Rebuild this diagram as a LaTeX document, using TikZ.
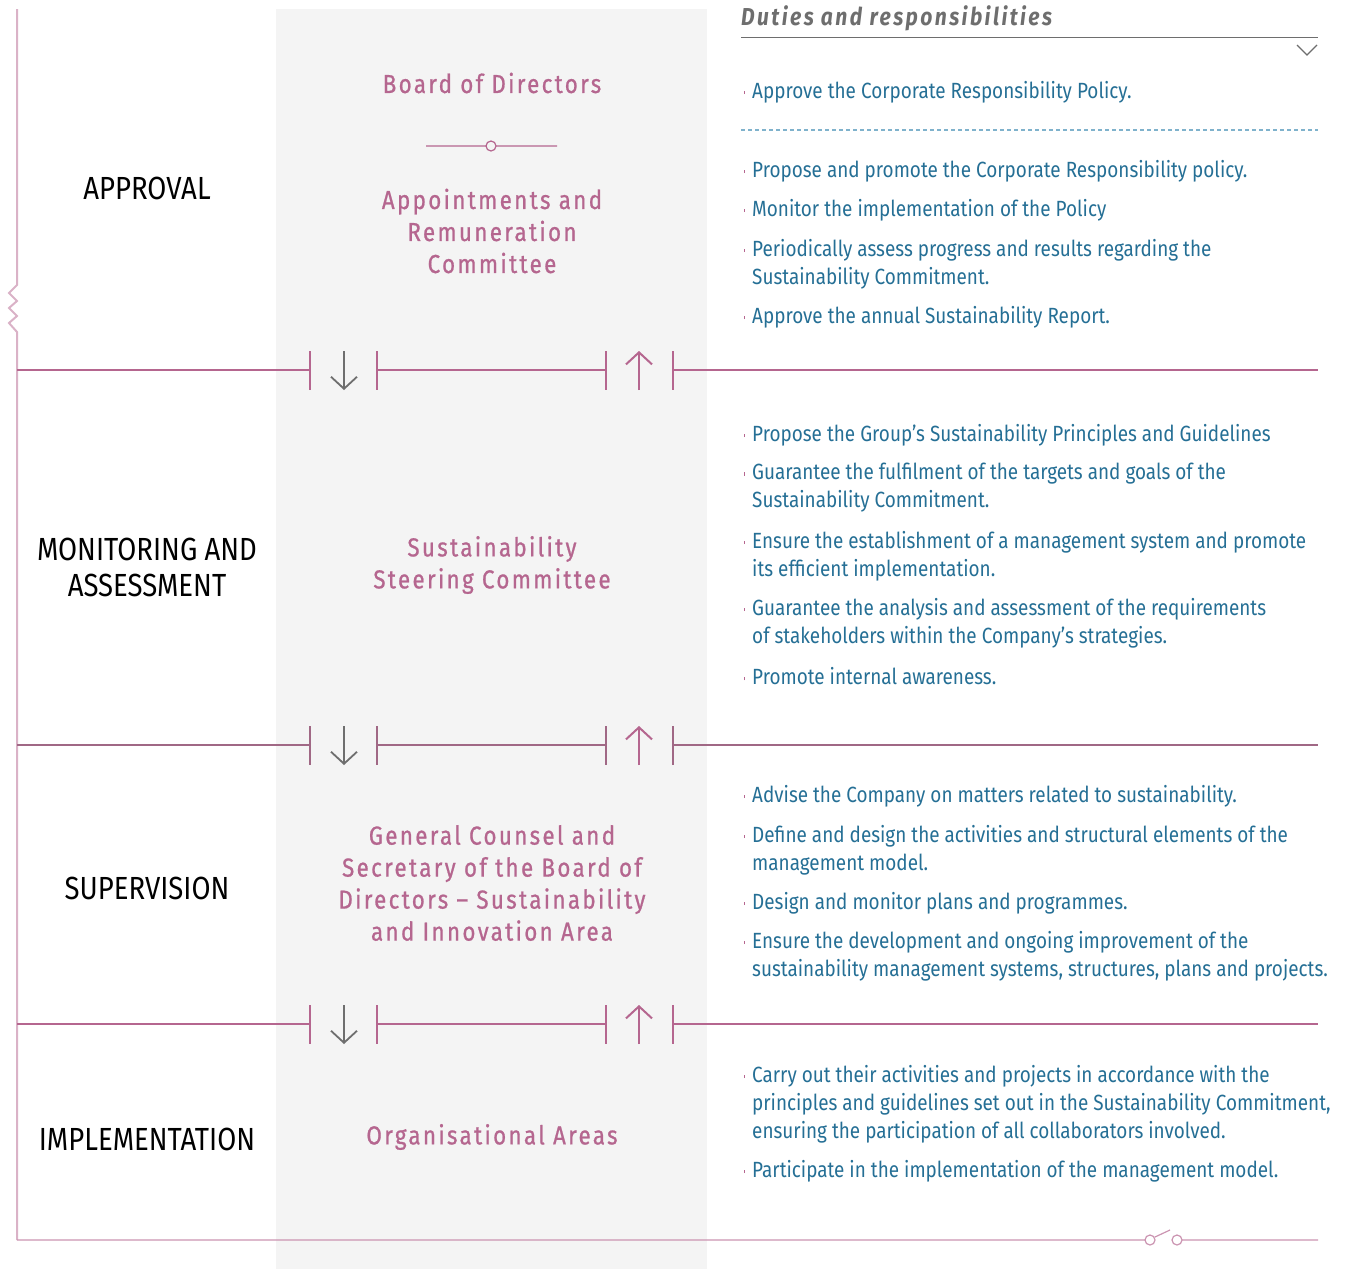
\documentclass[tikz,border=0pt]{standalone}
\usepackage{fontspec}
\setmainfont[FakeStretch=0.86]{Fira Sans}
\newfontfamily\bodyfont[FakeStretch=0.86, LetterSpace=9, FakeBold=0.8]{Fira Sans}
\newfontfamily\headfont[FakeStretch=0.86, LetterSpace=10]{Fira Sans}
\usetikzlibrary{arrows.meta}
\definecolor{rose}{HTML}{B5668F}
\definecolor{lightrose}{HTML}{DAB2C7}
\definecolor{dutyblue}{HTML}{256F95}
\definecolor{darkgray}{HTML}{6E6E6E}
\definecolor{panel}{HTML}{F4F4F4}
\definecolor{dotblue}{HTML}{7FB2CC}
\newcommand{\dutydot}{\llap{\textcolor{rose}{\rule[0.35ex]{1.6pt}{3.5pt}}\hspace{7pt}}}
\tikzset{
  level/.style={font=\fontsize{32}{36}\selectfont, align=center},
  body/.style={text=rose, align=center, font=\bodyfont\fontsize{26}{32}\selectfont},
  duty/.style={text=dutyblue, align=left, anchor=west, inner sep=0pt, font=\fontsize{22}{28}\selectfont},
  sep/.style={rose, line width=1.2pt},
}
\begin{document}
\begin{tikzpicture}[x=1pt, y=-1pt]
        \useasboundingbox (0,0) rectangle (1350,1269);
        \fill[panel] (276,9) rectangle (707,1269);
        % left rule with the zigzag break
        \draw[lightrose, line width=2pt] (17,9) -- (17,285) -- (9,293) -- (17,301) -- (9,308) -- (17,316) -- (9,323) -- (17,332) -- (17,1240);
        % header
        \node[anchor=west, inner sep=0pt, text=darkgray, font=\headfont\fontsize{24.5}{28}\selectfont\bfseries\itshape] (head) at (741,18) {Duties and responsibilities};
        \draw[darkgray, line width=1pt] (741,37) -- (1318,37);
        \draw[darkgray, line width=1.2pt] (1297,45) -- (1307,55) -- (1317,45);
        \draw[dotblue, line width=1.2pt, dash pattern=on 4pt off 3pt] (741,130) -- (1318,130);
        % separators between the levels
        \foreach \y/\c in {370/rose, 745/rose!70!darkgray, 1024/rose}{
            \draw[sep, \c] (17,\y) -- (310,\y) (310,\y-19) -- (310,\y+20);
            \draw[sep, \c] (377,\y-19) -- (377,\y+20) (377,\y) -- (606,\y) (606,\y-19) -- (606,\y+20);
            \draw[sep, \c] (673,\y-19) -- (673,\y+20) (673,\y) -- (1318,\y);
            \draw[darkgray, line width=1.8pt, -{Straight Barb[length=12pt,width=26pt]}] (344,\y-19) -- (344,\y+20);
            \draw[rose, line width=2pt, -{Straight Barb[length=12pt,width=26pt]}] (639,\y+20) -- (639,\y-19);
        }
        % bottom rule with the switch
        \draw[sep, lightrose!60!rose] (17,1240) -- (1145,1240) (1150,1240) circle (5) (1155,1237) -- (1170,1230) (1177,1240) circle (5) (1182,1240) -- (1318,1240);
        % levels
        \node[level] (approval) at (147,188) {APPROVAL};
        \node[level] (monitoring) at (147,567) {MONITORING AND\\ASSESSMENT};
        \node[level] (supervision) at (147,888) {SUPERVISION};
        \node[level] (implementation) at (147,1139) {IMPLEMENTATION};
        % bodies
        \node[body] (board) at (492,83) {Board of Directors};
        \draw[sep] (426,146) -- (486,146) (491,146) circle (5) (496,146) -- (557,146);
        \node[body] (committee) at (492,231) {Appointments and\\Remuneration\\Committee};
        \node[body] (steering) at (492,565) {Sustainability\\Steering Committee};
        \node[body] (counsel) at (492,883) {General Counsel and\\Secretary of the Board of\\Directors – Sustainability\\and Innovation Area};
        \node[body] (areas) at (492,1137) {Organisational Areas};
        % duties
        \node[duty] (d1) at (752,92) {\dutydot Approve the Corporate Responsibility Policy.};
        \node[duty] (d2) at (752,171) {\dutydot Propose and promote the Corporate Responsibility policy.};
        \node[duty] (d3) at (752,210) {\dutydot Monitor the implementation of the Policy};
        \node[duty] (d4) at (752,264) {\dutydot Periodically assess progress and results regarding the\\Sustainability Commitment.};
        \node[duty] (d5) at (752,317) {\dutydot Approve the annual Sustainability Report.};
        \node[duty] (d6) at (752,435) {\dutydot Propose the Group’s Sustainability Principles and Guidelines};
        \node[duty] (d7) at (752,488) {\dutydot Guarantee the fulfilment of the targets and goals of the\\Sustainability Commitment.};
        \node[duty] (d8) at (752,556) {\dutydot Ensure the establishment of a management system and promote\\its efficient implementation.};
        \node[duty] (d9) at (752,623) {\dutydot Guarantee the analysis and assessment of the requirements\\of stakeholders within the Company’s strategies.};
        \node[duty] (d10) at (752,676) {\dutydot Promote internal awareness.};
        \node[duty] (d11) at (752,796) {\dutydot Advise the Company on matters related to sustainability.};
        \node[duty] (d12) at (752,850) {\dutydot Define and design the activities and structural elements of the\\management model.};
        \node[duty] (d13) at (752,903) {\dutydot Design and monitor plans and programmes.};
        \node[duty] (d14) at (752,956) {\dutydot Ensure the development and ongoing improvement of the\\sustainability management systems, structures, plans and projects.};
        \node[duty] (d15) at (752,1104) {\dutydot Carry out their activities and projects in accordance with the\\principles and guidelines set out in the Sustainability Commitment,\\ensuring the participation of all collaborators involved.};
        \node[duty] (d16) at (752,1171) {\dutydot Participate in the implementation of the management model.};
\end{tikzpicture}
\end{document}
